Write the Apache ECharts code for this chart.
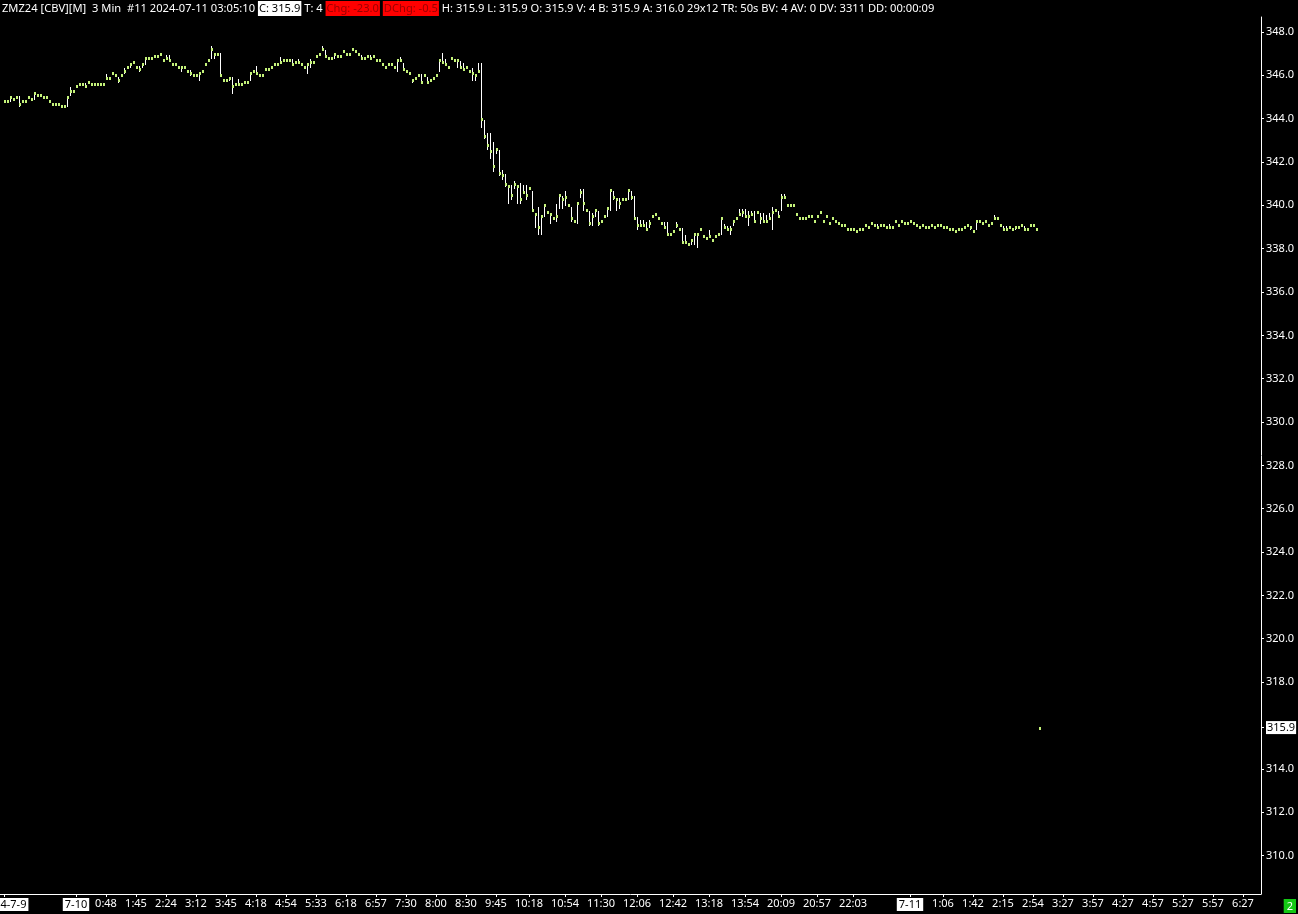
<!DOCTYPE html>
<html><head><meta charset="utf-8">
<script src="https://cdn.jsdelivr.net/npm/echarts@6/dist/echarts.min.js"></script>
<style>html,body{margin:0;padding:0;background:#000;overflow:hidden}#c{width:1298px;height:914px}</style>
</head><body><div id="c"></div>
<script>
// 3-minute bars, index 0 = first bar on the left
const closes = [
344.8,344.8,345.0,344.9,345.0,344.7,344.8,344.8,345.0,344.9,
345.2,345.1,345.1,345.0,345.0,344.8,344.7,344.7,344.7,344.6,
344.6,345.0,345.3,345.3,345.5,345.6,345.6,345.5,345.7,345.6,
345.6,345.6,345.6,345.6,345.9,345.9,346.1,346.0,345.8,346.0,
346.2,346.4,346.5,346.6,346.4,346.3,346.5,346.8,346.8,346.8,
346.9,346.9,347.0,346.7,346.8,346.7,346.5,346.5,346.4,346.4,
346.4,346.2,346.1,346.0,346.0,346.1,346.2,346.5,346.7,347.2,
347.0,347.0,346.0,345.8,345.8,345.9,345.5,345.6,345.6,345.6,
345.7,345.7,346.1,346.2,346.1,346.0,346.0,346.3,346.3,346.4,
346.5,346.5,346.6,346.7,346.7,346.7,346.5,346.6,346.6,346.5,
346.4,346.5,346.6,346.6,346.9,347.0,347.2,346.9,346.8,346.8,
347.0,346.9,346.9,347.1,347.0,347.0,347.2,347.1,347.0,346.8,
346.8,346.9,346.8,346.9,346.7,346.7,346.5,346.4,346.5,346.5,
346.4,346.7,346.7,346.3,346.2,346.1,345.8,345.9,346.0,345.7,
346.0,345.7,345.8,345.9,346.0,346.7,346.6,346.5,346.4,346.8,
346.7,346.7,346.4,346.3,346.4,346.2,346.1,346.0,346.2,344.0,
343.2,342.8,342.5,341.8,342.6,341.5,341.4,341.0,340.9,340.5,
341.0,340.9,340.3,340.6,340.5,340.8,339.8,339.6,339.0,339.5,
340.0,339.7,339.6,339.4,339.5,340.5,340.3,340.4,340.0,339.4,
339.3,340.1,340.6,340.1,339.8,339.2,339.5,339.8,339.2,339.3,
339.5,339.9,340.7,340.4,340.3,340.1,340.3,340.3,340.7,340.4,
339.4,339.1,339.1,339.1,338.9,339.2,339.5,339.6,339.4,339.2,
339.0,338.7,338.7,338.8,339.1,338.9,338.3,338.3,338.2,338.4,
338.7,338.7,338.9,338.6,338.5,338.6,338.4,338.6,338.7,339.4,
339.0,338.9,338.9,339.3,339.4,339.6,339.7,339.5,339.5,339.6,
339.3,339.7,339.4,339.3,339.3,339.4,339.7,339.8,339.5,340.4,
340.4,340.0,340.0,340.0,339.6,339.4,339.4,339.4,339.5,339.5,
339.3,339.5,339.7,339.3,339.5,339.2,339.4,339.3,339.2,339.1,
339.1,338.9,338.9,338.9,338.8,338.9,338.9,339.1,339.0,339.2,
339.1,339.0,339.1,339.1,339.0,339.0,339.0,339.3,339.1,339.3,
339.2,339.2,339.3,339.2,339.1,339.0,339.1,339.0,339.0,339.1,
339.0,339.1,339.1,339.0,339.0,338.9,338.9,338.8,338.9,338.9,
339.0,339.1,339.0,338.8,339.3,339.3,339.2,339.3,339.1,339.2,
339.4,339.4,339.1,338.9,338.9,339.0,338.9,339.0,339.0,339.1,
338.9,338.9,339.1,339.1,338.9,315.9
];
const highs = [
344.8,344.8,345.0,344.9,345.0,345.0,344.8,344.8,345.0,344.9,
345.2,345.1,345.1,345.0,345.0,344.8,344.7,344.7,344.7,344.6,
344.6,345.0,345.4,345.3,345.5,345.6,345.6,345.6,345.7,345.6,
345.6,345.6,345.6,345.6,346.0,345.9,346.1,346.0,345.9,346.0,
346.3,346.4,346.5,346.6,346.4,346.4,346.5,346.8,346.8,346.8,
346.9,346.9,347.0,346.7,346.9,346.9,346.5,346.5,346.4,346.4,
346.4,346.2,346.2,346.0,346.0,346.1,346.2,346.5,346.7,347.3,
347.0,347.0,347.0,345.8,345.8,345.9,345.9,345.6,345.8,345.6,
345.7,345.7,346.1,346.2,346.4,346.0,346.0,346.3,346.3,346.4,
346.5,346.5,346.8,346.7,346.7,346.7,346.7,346.6,346.7,346.5,
346.4,346.5,346.7,346.6,346.9,347.0,347.3,347.1,346.8,346.8,
347.0,346.9,346.9,347.1,347.0,347.0,347.2,347.1,347.0,346.9,
346.8,346.9,346.9,346.9,346.7,346.7,346.5,346.4,346.5,346.5,
346.4,346.7,346.8,346.5,346.2,346.1,345.8,345.9,346.0,346.0,
346.0,345.9,345.8,345.9,346.0,346.7,347.0,346.7,346.4,346.8,
346.7,346.7,346.6,346.5,346.4,346.2,346.3,346.0,346.5,346.5,
343.9,343.3,343.3,342.9,342.6,342.5,341.6,341.4,340.9,340.9,
341.1,340.9,341.0,340.9,340.9,340.8,340.6,339.6,339.9,339.5,
340.0,339.7,339.6,339.4,340.0,340.5,340.4,340.6,340.0,339.9,
339.3,340.1,340.7,340.7,339.8,339.7,339.6,339.8,339.7,339.3,
339.5,339.9,340.7,340.6,340.3,340.3,340.3,340.3,340.7,340.6,
340.4,339.4,339.3,339.3,339.2,339.3,339.5,339.6,339.4,339.2,
339.2,339.2,338.7,338.8,339.2,338.9,338.9,338.6,338.2,338.4,
338.7,338.7,338.9,338.6,338.5,338.8,338.4,338.6,338.7,339.4,
339.1,339.0,339.0,339.3,339.4,339.8,339.8,339.8,339.7,339.7,
339.7,339.7,339.6,339.6,339.5,339.6,339.9,339.8,339.7,340.5,
340.5,340.0,340.0,340.0,339.6,339.4,339.4,339.4,339.5,339.5,
339.3,339.5,339.7,339.3,339.5,339.2,339.4,339.3,339.2,339.1,
339.1,338.9,338.9,338.9,338.8,338.9,338.9,339.1,339.0,339.2,
339.1,339.1,339.1,339.1,339.0,339.1,339.0,339.3,339.1,339.3,
339.2,339.2,339.3,339.2,339.1,339.0,339.1,339.0,339.0,339.1,
339.0,339.1,339.1,339.0,339.0,338.9,338.9,338.8,338.9,338.9,
339.0,339.1,339.0,338.8,339.3,339.3,339.2,339.3,339.1,339.2,
339.5,339.4,339.1,339.0,339.0,339.0,338.9,339.0,339.0,339.1,
339.0,338.9,339.1,339.1,338.9,315.9
];
const lows = [
344.8,344.8,344.8,344.9,345.0,344.6,344.8,344.8,345.0,344.9,
344.9,345.1,345.1,345.0,345.0,344.8,344.7,344.7,344.7,344.6,
344.6,344.6,345.1,345.3,345.5,345.6,345.6,345.5,345.7,345.6,
345.6,345.6,345.6,345.6,345.9,345.9,346.1,346.0,345.7,346.0,
346.1,346.4,346.4,346.6,346.4,346.2,346.4,346.5,346.8,346.8,
346.9,346.9,347.0,346.7,346.8,346.7,346.5,346.5,346.4,346.2,
346.4,346.2,346.0,346.0,346.0,345.8,346.2,346.5,346.7,346.8,
346.8,347.0,346.0,345.8,345.8,345.8,345.2,345.6,345.6,345.6,
345.7,345.7,345.8,346.2,346.1,346.0,346.0,346.3,346.3,346.4,
346.5,346.5,346.6,346.7,346.7,346.7,346.5,346.6,346.6,346.5,
346.4,346.1,346.4,346.6,346.9,347.0,347.2,346.9,346.8,346.8,
346.8,346.9,346.9,347.1,347.0,347.0,347.2,347.1,347.0,346.8,
346.8,346.9,346.8,346.9,346.7,346.7,346.5,346.4,346.5,346.5,
346.4,346.2,346.7,346.3,346.2,346.1,345.7,345.9,346.0,345.7,
346.0,345.7,345.8,345.9,346.0,346.2,346.6,346.5,346.4,346.8,
346.7,346.4,346.4,346.3,346.4,346.2,345.8,345.8,346.2,343.6,
343.1,342.6,342.2,341.6,342.4,341.4,341.2,340.9,340.1,340.3,
340.8,340.1,340.1,340.6,340.3,340.8,339.8,339.0,338.7,338.7,
339.5,339.7,339.2,339.4,339.3,339.9,339.9,340.0,340.0,339.3,
339.3,339.2,340.4,339.8,339.8,339.1,339.1,339.5,339.1,339.3,
339.5,339.5,339.8,340.3,339.8,339.9,340.3,340.3,340.3,340.3,
339.4,338.9,339.1,339.1,338.9,339.0,339.5,339.6,339.4,339.2,
339.0,338.7,338.7,338.8,339.0,338.9,338.3,338.3,338.2,338.2,
338.2,338.1,338.9,338.6,338.5,338.6,338.4,338.6,338.7,338.7,
339.0,338.9,338.7,339.1,339.4,339.6,339.5,339.5,339.1,339.6,
339.3,339.7,339.2,339.3,339.3,339.4,338.9,339.8,339.5,339.8,
340.4,340.0,340.0,340.0,339.6,339.4,339.4,339.4,339.5,339.5,
339.3,339.5,339.7,339.3,339.5,339.2,339.4,339.3,339.2,339.1,
339.1,338.9,338.9,338.9,338.8,338.9,338.9,339.1,339.0,339.2,
339.1,339.0,339.1,339.1,339.0,339.0,339.0,339.3,339.1,339.3,
339.2,339.2,339.3,339.2,339.1,339.0,339.1,339.0,339.0,339.1,
339.0,339.1,339.1,339.0,339.0,338.9,338.9,338.8,338.9,338.9,
339.0,339.1,338.9,338.8,338.9,339.3,339.2,339.3,339.1,339.2,
339.4,339.4,339.1,338.9,338.9,339.0,338.9,338.9,339.0,339.1,
338.9,338.9,339.1,339.1,338.9,315.9
];
const xTickIndex = [0,24,34,44,54,64,74,84,94,104,114,124,134,144,154,164,175,187,199,211,223,235,247,259,271,283,302,313,323,333,343,353,363,373,383,393,403,413];
const xTickLabels = ['2024-7-9','7-10','0:48','1:45','2:24','3:12','3:45','4:18','4:54','5:33','6:18','6:57','7:30','8:00','8:30','9:45','10:18','10:54','11:30','12:06','12:42','13:18','13:54','20:09','20:57','22:03','7-11','1:06','1:42','2:15','2:54','3:27','3:57','4:27','4:57','5:27','5:57','6:27'];
const dateLabels = ['2024-7-9','7-10','7-11'];
const yTicks = [310,312,314,315.9,318,320,322,324,326,328,330,332,334,336,338,340,342,344,346,348];
const lastPrice = 315.9;
const headerParts = [
  ['w','ZMZ24 [CBV][M]  3 Min  #11 2024-07-11 03:05:10 '],
  ['c','C: 315.9'],
  ['w',' T: 4 '],
  ['r','Chg: -23.0'],
  ['w',' '],
  ['r','DChg: -0.5'],
  ['w',' H: 315.9 L: 315.9 O: 315.9 V: 4 B: 315.9 A: 316.0 29x12 TR: 50s BV: 4 AV: 0 DV: 3311 DD: 00:00:09']
];

const FONT = 'Noto Sans';
const FS = 11;
const HFS = 11.15;
const chart = echarts.init(document.getElementById('c'), null, {renderer: 'canvas'});
const bars = closes.map((c, i) => [i, c, highs[i], lows[i]]);
const hs = {fontFamily: FONT, fontSize: HFS, fontWeight: 'normal', lineHeight: 15, height: 15};

chart.setOption({
  backgroundColor: '#000',
  animation: false,
  title: {
    left: 2, top: 1, padding: 0,
    text: headerParts.map(p => '{' + p[0] + '|' + p[1] + '}').join(''),
    textStyle: {
      fontWeight: 'normal', fontFamily: FONT, fontSize: HFS,
      rich: {
        w: Object.assign({color: '#fff'}, hs),
        c: Object.assign({color: '#000', backgroundColor: '#fff', padding: [0, 1]}, hs),
        r: Object.assign({color: '#9a0000', backgroundColor: '#ff0000', padding: [0, 1]}, hs)
      }
    }
  },
  grid: {left: 0, right: 37, top: 17, bottom: 20, containLabel: false, outerBoundsMode: 'none'},
  xAxis: {
    type: 'value', min: -4 / 3, max: 419,
    splitLine: {show: false},
    axisLine: {show: true, onZero: false, lineStyle: {color: '#fff', width: 1}},
    axisTick: {show: true, customValues: xTickIndex, length: 3, lineStyle: {color: '#fff'}},
    axisLabel: {
      show: true, customValues: xTickIndex, margin: 4,
      color: '#fff', fontFamily: FONT, fontSize: FS,
      formatter: v => {
        const k = xTickIndex.indexOf(Math.round(v));
        const t = k >= 0 ? xTickLabels[k] : '';
        return dateLabels.indexOf(t) >= 0 ? '{d|' + t + '}' : t;
      },
      rich: {d: {color: '#000', backgroundColor: '#fff', fontFamily: FONT, fontSize: FS, padding: [1, 2, 1, 2]}}
    }
  },
  yAxis: {
    type: 'value', position: 'right', min: 308.22, max: 348.692, scale: true,
    splitLine: {show: false},
    axisLine: {show: true, onZero: false, lineStyle: {color: '#fff', width: 1}},
    axisTick: {show: true, customValues: yTicks, length: 3, lineStyle: {color: '#fff'}},
    axisLabel: {
      show: true, customValues: yTicks, margin: 5,
      color: '#fff', fontFamily: FONT, fontSize: FS,
      formatter: v => Math.abs(v - lastPrice) < 1e-6 ? '{p|' + v.toFixed(1) + '}' : v.toFixed(1),
      rich: {p: {color: '#000', backgroundColor: '#fff', fontFamily: FONT, fontSize: FS, padding: [1, 1, 1, 1]}}
    }
  },
  graphic: [{
    type: 'text', right: 2, bottom: 1,
    style: {text: '2', fill: '#fff', backgroundColor: '#14c814', padding: [2, 3, 1, 3], font: FS + 'px "' + FONT + '"'}
  }],
  series: [{
    type: 'custom',
    silent: true,
    clip: false,
    data: bars,
    encode: {x: 0, y: [1, 2, 3]},
    renderItem: (params, api) => {
      const i = api.value(0);
      const pc = api.coord([i, api.value(1)]);
      const ph = api.coord([i, api.value(2)]);
      const pl = api.coord([i, api.value(3)]);
      const x = Math.round(pc[0]);
      const children = [];
      const y1 = Math.round(ph[1]), y2 = Math.round(pl[1]);
      if (y2 - y1 >= 1) {
        children.push({type: 'rect', shape: {x: x, y: y1 - 1, width: 1, height: y2 - y1 + 2}, style: {fill: '#ffffff'}});
      }
      children.push({type: 'rect', shape: {x: x, y: Math.round(pc[1]) - 1, width: 2, height: 3}, style: {fill: '#c4f27a'}});
      return {type: 'group', children: children};
    }
  }]
});
</script>
</body></html>
